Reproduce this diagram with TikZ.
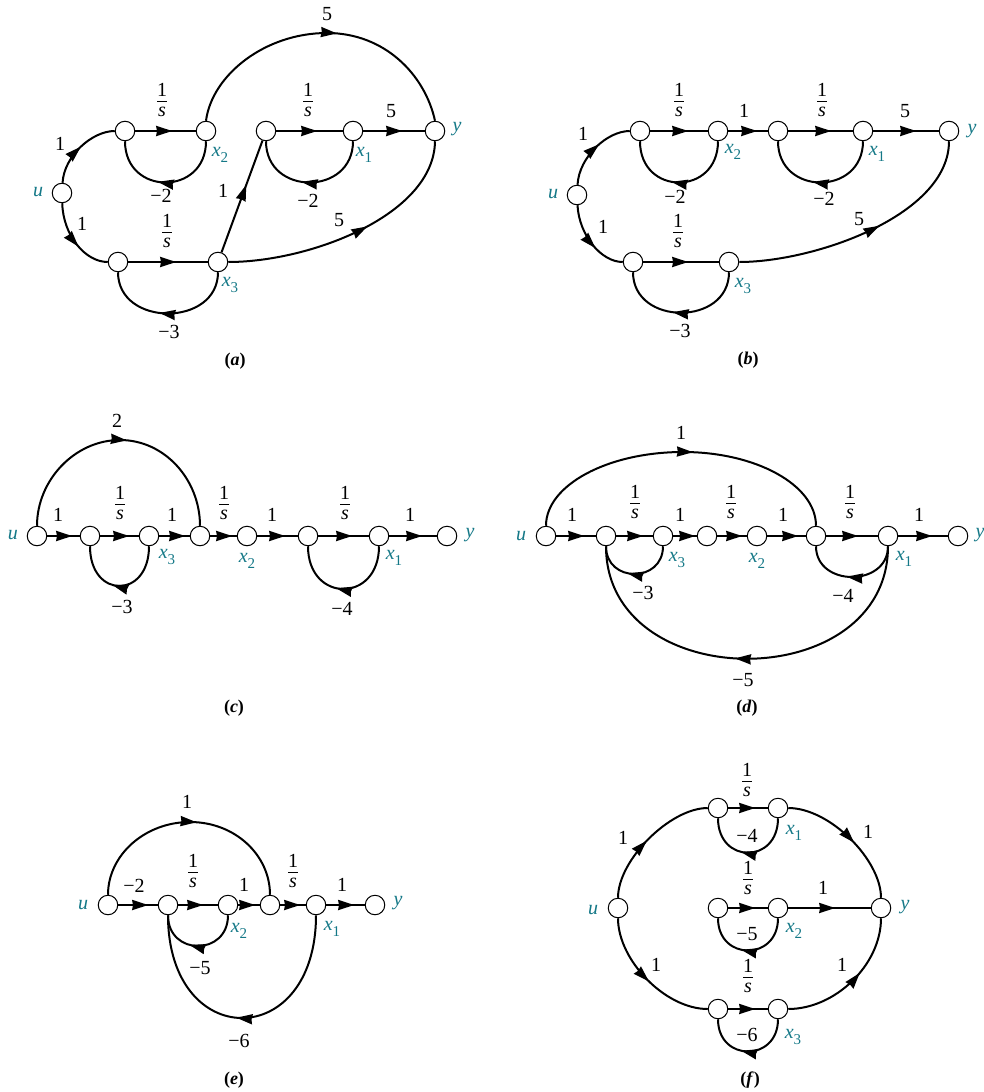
\documentclass[tikz,border=0pt]{standalone}
\usepackage{fontspec}
\setmainfont{Liberation Serif}
\usetikzlibrary{arrows.meta,decorations.markings}
\definecolor{tealv}{RGB}{20,120,135}
\newcommand{\oneS}{\vbox{\offinterlineskip\hsize=10pt
  \hbox to 10pt{\hss 1\hss}\kern5pt\hrule height 1pt\kern5pt
  \hbox to 10pt{\hss\itshape s\hss}}}
\newcommand{\vx}[1]{\textit{x}\raisebox{-0.28em}{\fontsize{15}{15}\selectfont\upshape #1}}
\tikzset{
  nd/.style={circle,draw=black,fill=white,line width=1pt,minimum size=19.5pt,inner sep=0pt},
  edge/.style={line width=2pt,draw=black},
  tipat/.style={postaction={decorate,decoration={markings,mark=at position #1 with {\arrow{Stealth[length=16pt,width=10pt,inset=0.8pt]}}}}},
  lab/.style={inner sep=0pt,font=\fontsize{20}{22}\selectfont},
  fracl/.style={lab,yshift=2pt},
  var/.style={inner sep=0pt,text=tealv,font=\fontsize{20}{22}\selectfont\itshape},
  capt/.style={inner sep=0pt,font=\fontsize{18}{20}\selectfont\bfseries}
}
\begin{document}
\begin{tikzpicture}[x=1pt,y=-1pt]
\useasboundingbox (0,0) rectangle (983,1092);
% ---------- (a)
\node[nd] (au) at (62,193) {};
\node[nd] (an1) at (125,131) {};
\node[nd] (ax2) at (206,131) {};
\node[nd] (an3) at (266,131) {};
\node[nd] (ax1) at (353,131) {};
\node[nd] (ay) at (435,131) {};
\node[nd] (an4) at (118,262) {};
\node[nd] (ax3) at (218,262) {};
\draw[edge,tipat=.52] (au) .. controls (64,156) and (92,131) .. (an1);
\draw[edge,tipat=.58] (au) .. controls (63,235) and (85,262) .. (an4);
\draw[edge,tipat=37pt] (an1) -- (ax2);
\draw[edge,tipat=41pt] (an3) -- (ax1);
\draw[edge,tipat=39pt] (ax1) -- (ay);
\draw[edge,tipat=48pt] (an4) -- (ax3);
\draw[edge,tipat=72pt] (ax3) -- (an3);
\draw[edge,tipat=.55] (ax2.north) .. controls (212,75) and (265,33) .. (327,33) .. controls (385,33) and (425,75) .. (ay.north);
\draw[edge,tipat=.56] (ax3) .. controls (310,262) and (434,215) .. (ay.south);
\draw[edge,tipat=.56] (ax2.south) .. controls +(0,55) and +(0,55) .. (an1.south);
\draw[edge,tipat=.56] (ax1.south) .. controls +(0,55) and +(0,55) .. (an3.south);
\draw[edge,tipat=.56] (ax3.south) .. controls +(0,55) and +(0,55) .. (an4.south);
\node[lab] (aL1) at (60,144) {1};
\node[lab] (aL2) at (82,224) {1};
\node[fracl] (aL3) at (162,102) {\oneS};
\node[fracl] (aL4) at (308,102) {\oneS};
\node[fracl] (aL5) at (167,233) {\oneS};
\node[lab] (aL6) at (391,111) {5};
\node[lab] (aL7) at (327,14) {5};
\node[lab] (aL8) at (223,191) {1};
\node[lab] (aL9) at (339,220) {5};
\node[lab] (aL10) at (161,196) {−2};
\node[lab] (aL11) at (308,201) {−2};
\node[lab] (aL12) at (169,332) {−3};
\node[var] (aVu) at (38,192) {u};
\node[var] (aVy) at (457,129) {y};
\node[var] (aV1) at (364,155) {\vx{1}};
\node[var] (aV2) at (220,155) {\vx{2}};
\node[var] (aV3) at (230,285) {\vx{3}};
\node[capt] (aC) at (235,361) {(\textit{a})};
% ---------- (b)
\node[nd] (bu) at (577,195) {};
\node[nd] (bn1) at (640,131) {};
\node[nd] (bx2) at (718,131) {};
\node[nd] (bn3) at (778,131) {};
\node[nd] (bx1) at (863,131) {};
\node[nd] (by) at (949,131) {};
\node[nd] (bn4) at (633,262) {};
\node[nd] (bx3) at (729,262) {};
\draw[edge,tipat=.58] (bu) .. controls (579,157) and (607,131) .. (bn1);
\draw[edge,tipat=.6] (bu) .. controls (579,235) and (601,262) .. (bn4);
\draw[edge,tipat=38pt] (bn1) -- (bx2);
\draw[edge,tipat=29pt] (bx2) -- (bn3);
\draw[edge,tipat=43pt] (bn3) -- (bx1);
\draw[edge,tipat=43pt] (bx1) -- (by);
\draw[edge,tipat=45pt] (bn4) -- (bx3);
\draw[edge,tipat=.56] (bx3) .. controls (815,262) and (949,215) .. (by.south);
\draw[edge,tipat=.56] (bx2.south) .. controls +(0,55) and +(0,55) .. (bn1.south);
\draw[edge,tipat=.56] (bx1.south) .. controls +(0,55) and +(0,55) .. (bn3.south);
\draw[edge,tipat=.56] (bx3.south) .. controls +(0,54) and +(0,54) .. (bn4.south);
\node[lab] (bL1) at (583,134) {1};
\node[lab] (bL2) at (603,227) {1};
\node[fracl] (bL3) at (679,102) {\oneS};
\node[fracl] (bL4) at (822,102) {\oneS};
\node[fracl] (bL5) at (678,233) {\oneS};
\node[lab] (bL6) at (744,111) {1};
\node[lab] (bL7) at (905,111) {5};
\node[lab] (bL8) at (859,219) {5};
\node[lab] (bL9) at (675,197) {−2};
\node[lab] (bL10) at (824,199) {−2};
\node[lab] (bL11) at (680,331) {−3};
\node[var] (bVu) at (553,194) {u};
\node[var] (bVy) at (972,131) {y};
\node[var] (bV1) at (877,154) {\vx{1}};
\node[var] (bV2) at (733,152) {\vx{2}};
\node[var] (bV3) at (743,286) {\vx{3}};
\node[capt] (bC) at (748,360) {(\textit{b})};
% ---------- (c)
\node[nd] (cu) at (37,536) {};
\node[nd] (cn1) at (90,536) {};
\node[nd] (cx3) at (149,536) {};
\node[nd] (cn3) at (200,536) {};
\node[nd] (cx2) at (247,536) {};
\node[nd] (cn4) at (308,536) {};
\node[nd] (cx1) at (379,536) {};
\node[nd] (cy) at (447,536) {};
\draw[edge,tipat=25pt] (cu) -- (cn1);
\draw[edge,tipat=29pt] (cn1) -- (cx3);
\draw[edge,tipat=26pt] (cx3) -- (cn3);
\draw[edge,tipat=22pt] (cn3) -- (cx2);
\draw[edge,tipat=28pt] (cx2) -- (cn4);
\draw[edge,tipat=34pt] (cn4) -- (cx1);
\draw[edge,tipat=33pt] (cx1) -- (cy);
\draw[edge,tipat=.53] (cu.north) .. controls (37,480) and (75,440) .. (120,440) .. controls (165,440) and (200,480) .. (cn3.north);
\draw[edge,tipat=.565] (cx3.south) .. controls +(0,53) and +(0,53) .. (cn1.south);
\draw[edge,tipat=.56] (cx1.south) .. controls +(0,57) and +(0,57) .. (cn4.south);
\node[lab] (cL1) at (117,421) {2};
\node[lab] (cL2) at (58,515) {1};
\node[fracl] (cL3) at (120,505) {\oneS};
\node[lab] (cL4) at (172,515) {1};
\node[fracl] (cL5) at (224,505) {\oneS};
\node[lab] (cL6) at (272,515) {1};
\node[fracl] (cL7) at (345,505) {\oneS};
\node[lab] (cL8) at (410,515) {1};
\node[lab] (cL9) at (122,607) {−3};
\node[lab] (cL10) at (342,609) {−4};
\node[var] (cVu) at (13,535) {u};
\node[var] (cVy) at (470,535) {y};
\node[var] (cV1) at (394,558) {\vx{1}};
\node[var] (cV2) at (247,561) {\vx{2}};
\node[var] (cV3) at (167,557) {\vx{3}};
\node[capt] (cC) at (234,708) {(\textit{c})};
% ---------- (d)
\node[nd] (du) at (546,536) {};
\node[nd] (dn1) at (606,536) {};
\node[nd] (dx3) at (663,536) {};
\node[nd] (dn3) at (707,536) {};
\node[nd] (dx2) at (757,536) {};
\node[nd] (dn4) at (816,536) {};
\node[nd] (dx1) at (888,536) {};
\node[nd] (dy) at (958,536) {};
\draw[edge,tipat=28pt] (du) -- (dn1);
\draw[edge,tipat=27pt] (dn1) -- (dx3);
\draw[edge,tipat=22pt] (dx3) -- (dn3);
\draw[edge,tipat=25pt] (dn3) -- (dx2);
\draw[edge,tipat=31pt] (dx2) -- (dn4);
\draw[edge,tipat=32pt] (dn4) -- (dx1);
\draw[edge,tipat=34pt] (dx1) -- (dy);
\draw[edge,tipat=.535] (du.north) .. controls (546,485) and (608,452) .. (683,452) .. controls (756,452) and (816,485) .. (dn4.north);
\draw[edge,tipat=.58] (dx3.south) .. controls +(0,37) and +(0,37) .. (dn1.south);
\draw[edge,tipat=.55] (dx1.south) .. controls +(0,41) and +(0,41) .. (dn4.south);
\draw[edge,tipat=.53] (dx1.south) .. controls +(0,150) and +(0,150) .. (dn1.south);
\node[lab] (dL1) at (681,433) {1};
\node[lab] (dL2) at (572,515) {1};
\node[fracl] (dL3) at (635,504) {\oneS};
\node[lab] (dL4) at (680,515) {1};
\node[fracl] (dL5) at (731,504) {\oneS};
\node[lab] (dL6) at (783,515) {1};
\node[fracl] (dL7) at (850,504) {\oneS};
\node[lab] (dL8) at (919,515) {1};
\node[lab] (dL9) at (643,593) {−3};
\node[lab] (dL10) at (843,596) {−4};
\node[lab] (dL11) at (743,680) {−5};
\node[var] (dVu) at (521,536) {u};
\node[var] (dVy) at (980,535) {y};
\node[var] (dV1) at (904,559) {\vx{1}};
\node[var] (dV2) at (757,561) {\vx{2}};
\node[var] (dV3) at (677,560) {\vx{3}};
\node[capt] (dC) at (747,708) {(\textit{d})};
% ---------- (e)
\node[nd] (eu) at (108,905) {};
\node[nd] (en1) at (168,905) {};
\node[nd] (ex2) at (228,905) {};
\node[nd] (en3) at (270,905) {};
\node[nd] (ex1) at (316,905) {};
\node[nd] (ey) at (375,905) {};
\draw[edge,tipat=30pt] (eu) -- (en1);
\draw[edge,tipat=25pt] (en1) -- (ex2);
\draw[edge,tipat=17pt] (ex2) -- (en3);
\draw[edge,tipat=20pt] (en3) -- (ex1);
\draw[edge,tipat=28pt] (ex1) -- (ey);
\draw[edge,tipat=.53] (eu.north) .. controls (108,855) and (145,822) .. (190,822) .. controls (235,822) and (270,855) .. (en3.north);
\draw[edge,tipat=.59] (ex2.south) .. controls +(0,41) and +(0,41) .. (en1.south);
\draw[edge,tipat=.52] (ex1.south) .. controls +(0,137) and +(0,137) .. (en1.south);
\node[lab] (eL1) at (187,802) {1};
\node[lab] (eL2) at (134,886) {−2};
\node[fracl] (eL3) at (193,873) {\oneS};
\node[lab] (eL4) at (244,885) {1};
\node[fracl] (eL5) at (293,873) {\oneS};
\node[lab] (eL6) at (342,885) {1};
\node[lab] (eL7) at (200,968) {−5};
\node[lab] (eL8) at (239,1041) {−6};
\node[var] (eVu) at (83,905) {u};
\node[var] (eVy) at (398,903) {y};
\node[var] (eV1) at (332,929) {\vx{1}};
\node[var] (eV2) at (239,931) {\vx{2}};
\node[capt] (eC) at (234,1080) {(\textit{e})};
% ---------- (f)
\node[nd] (fu) at (618,908) {};
\node[nd] (fy) at (881,908) {};
\node[nd] (fn1) at (718,808) {};
\node[nd] (fx1) at (778,808) {};
\node[nd] (fn2) at (718,908) {};
\node[nd] (fx2) at (778,908) {};
\node[nd] (fn3) at (718,1009) {};
\node[nd] (fx3) at (778,1009) {};
\draw[edge,tipat=.48] (fu) .. controls (618,860) and (670,808) .. (fn1);
\draw[edge,tipat=.55] (fx1) .. controls (830,808) and (881,860) .. (fy);
\draw[edge,tipat=.52] (fu) .. controls (618,960) and (665,1009) .. (fn3);
\draw[edge,tipat=.58] (fx3) .. controls (835,1009) and (881,965) .. (fy);
\draw[edge,tipat=27pt] (fn1) -- (fx1);
\draw[edge,tipat=27pt] (fn2) -- (fx2);
\draw[edge,tipat=27pt] (fn3) -- (fx3);
\draw[edge,tipat=47pt] (fx2) -- (fy);
\draw[edge,tipat=.57] (fx1.south) .. controls +(0,46) and +(0,46) .. (fn1.south);
\draw[edge,tipat=.57] (fx2.south) .. controls +(0,43) and +(0,43) .. (fn2.south);
\draw[edge,tipat=.57] (fx3.south) .. controls +(0,43) and +(0,43) .. (fn3.south);
\node[lab] (fL1) at (623,838) {1};
\node[lab] (fL2) at (868,832) {1};
\node[lab] (fL3) at (823,888) {1};
\node[lab] (fL4) at (656,965) {1};
\node[lab] (fL5) at (842,965) {1};
\node[fracl] (fL6) at (747,782) {\oneS};
\node[fracl] (fL7) at (748,880) {\oneS};
\node[fracl] (fL8) at (748,978) {\oneS};
\node[lab] (fL9) at (747,836) {−4};
\node[lab] (fL10) at (747,934) {−5};
\node[lab] (fL11) at (747,1035) {−6};
\node[var] (fVu) at (593,910) {u};
\node[var] (fVy) at (905,907) {y};
\node[var] (fV1) at (794,833) {\vx{1}};
\node[var] (fV2) at (794,931) {\vx{2}};
\node[var] (fV3) at (793,1037) {\vx{3}};
\node[capt] (fC) at (750,1080) {(\textit{f})};
\end{tikzpicture}
\end{document}
